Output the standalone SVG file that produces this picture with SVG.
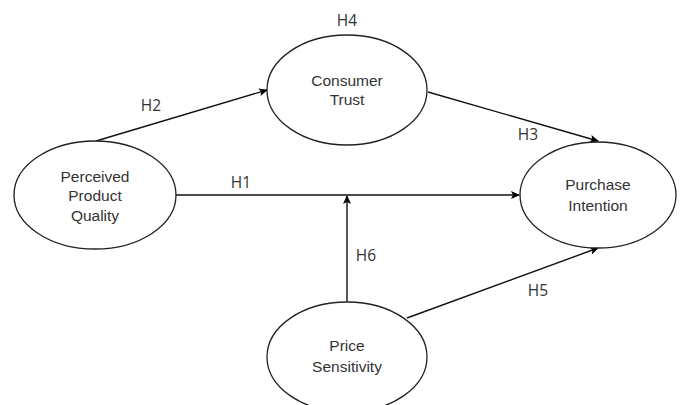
<svg xmlns="http://www.w3.org/2000/svg" width="683" height="405" viewBox="0 0 683 405">
<defs>
<marker id="arr" markerWidth="10" markerHeight="10" refX="8" refY="4" orient="auto" markerUnits="userSpaceOnUse"><path d="M0,0 L9,4 L0,8 L2,4 Z" fill="#000"/></marker>
<style>
.n{fill:#fff;stroke:#222;stroke-width:1.3}
.t{font-family:"Liberation Sans",Arial,sans-serif;font-size:15.5px;fill:#333;text-anchor:middle}
.l{font-family:"Open Sans","DejaVu Sans",sans-serif;font-size:15.5px;fill:#333;text-anchor:middle}
.e{stroke:#111;stroke-width:1.4;fill:none;marker-end:url(#arr)}
</style>
</defs>
<rect width="683" height="405" fill="#fff"/>
<g id="edges">
<line class="e" x1="96" y1="141" x2="267" y2="90"/>
<line class="e" x1="428" y1="92" x2="598" y2="141"/>
<line class="e" x1="176" y1="195" x2="519" y2="195"/>
<line class="e" x1="347" y1="302" x2="347" y2="196"/>
<line class="e" x1="407" y1="318" x2="598" y2="248"/>
<text class="l" x="151" y="111">H2</text>
<text class="l" x="528" y="140">H3</text>
<text class="l" x="241" y="188">H1</text>
<text class="l" x="366" y="261">H6</text>
<text class="l" x="538" y="296">H5</text>
</g>
<g id="ppq"><ellipse class="n" cx="95" cy="195" rx="81" ry="54"/><text class="t" x="95" y="182">Perceived</text><text class="t" x="95" y="201">Product</text><text class="t" x="95" y="221">Quality</text></g>
<g id="ct"><ellipse class="n" cx="347" cy="90" rx="80" ry="55"/><text class="t" x="347" y="86">Consumer</text><text class="t" x="347" y="105">Trust</text><text class="l" x="347" y="26">H4</text></g>
<g id="pi"><ellipse class="n" cx="598" cy="195" rx="78" ry="53"/><text class="t" x="598" y="190">Purchase</text><text class="t" x="598" y="211">Intention</text></g>
<g id="ps"><ellipse class="n" cx="347" cy="357" rx="80" ry="55"/><text class="t" x="347" y="351">Price</text><text class="t" x="347" y="372">Sensitivity</text></g>
</svg>
